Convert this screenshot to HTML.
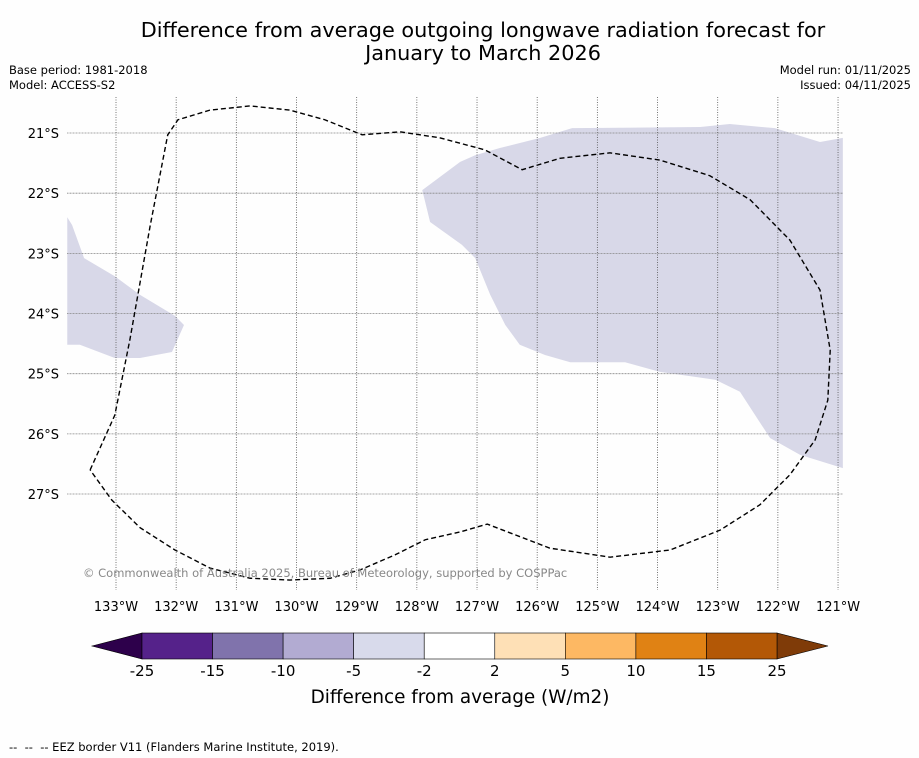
<!DOCTYPE html>
<html><head><meta charset="utf-8"><style>
body{margin:0;background:#fff;font-family:"Liberation Sans","DejaVu Sans",sans-serif;}
#wrap{position:relative;width:919px;height:758px;overflow:hidden;background:#fefefe;}
.t{position:absolute;white-space:nowrap;color:#000;}
</style></head><body>
<div id="wrap">
<div class="t" style="left:0;width:966px;top:19px;text-align:center;font-size:20.8px;line-height:23px;font-family:'DejaVu Sans',sans-serif;">Difference from average outgoing longwave radiation forecast for<br>January to March 2026</div>
<div class="t" style="left:9px;top:63px;font-size:11.5px;line-height:15px;font-family:'DejaVu Sans',sans-serif;">Base period: 1981-2018<br>Model: ACCESS-S2</div>
<div class="t" style="right:8px;top:63px;font-size:11.5px;line-height:15px;text-align:right;font-family:'DejaVu Sans',sans-serif;">Model run: 01/11/2025<br>Issued: 04/11/2025</div>
<svg id="map" width="919" height="758" style="position:absolute;left:0;top:0" font-family="DejaVu Sans, sans-serif"></svg>
<div class="t" style="left:9px;top:740px;font-size:11.5px;font-family:'DejaVu Sans',sans-serif;">--&nbsp; --&nbsp; -- EEZ border V11 (Flanders Marine Institute, 2019).</div>
</div>
<script>
const lonTicks=[133,132,131,130,129,128,127,126,125,124,123,122,121];
const latTicks=[21,22,23,24,25,26,27];
const rightRegionLon=[127.91,127.28,127.03,126.62,125.95,125.42,123.29,122.80,122.05,121.30,120.92,120.92,121.63,122.13,122.63,123.04,123.96,124.54,125.45,125.87,126.29,126.53,126.78,127.03,127.25,127.78];
const rightRegionLat=[21.95,21.48,21.37,21.25,21.08,20.92,20.90,20.85,20.92,21.15,21.08,26.57,26.35,26.07,25.30,25.10,24.97,24.81,24.81,24.69,24.52,24.19,23.69,23.08,22.86,22.48];
const leftRegionLon=[133.81,133.73,133.53,133.02,132.60,132.02,131.87,132.07,132.60,133.02,133.60,133.81];
const leftRegionLat=[22.40,22.53,23.08,23.38,23.69,24.04,24.19,24.64,24.74,24.74,24.52,24.52];
const eezLon=[133.43,133.02,132.77,132.43,132.14,131.97,131.44,130.77,130.11,129.53,128.91,128.28,127.62,126.87,126.25,125.62,124.79,123.96,123.13,122.46,121.80,121.30,121.13,121.17,121.38,121.80,122.30,122.96,123.79,124.79,125.79,126.83,127.28,127.86,128.36,128.94,129.44,130.11,130.77,131.44,132.02,132.60,133.07,133.43];
const eezLat=[26.60,25.69,24.44,22.53,21.03,20.78,20.62,20.55,20.62,20.78,21.03,20.98,21.08,21.28,21.61,21.42,21.33,21.45,21.71,22.11,22.78,23.61,24.61,25.44,26.10,26.68,27.18,27.60,27.93,28.05,27.90,27.50,27.63,27.76,28.01,28.26,28.40,28.43,28.40,28.23,27.93,27.56,27.10,26.60];
const cbLabels=["-25","-15","-10","-5","-2","2","5","10","15","25"];
const cbColors=["#55228a","#8073ac","#b2abd2","#d8daeb","#ffffff","#fee0b6","#fdb863","#e08214","#b35806"];
const X=lon=>116+(133-lon)*60.17, Y=lat=>133+(lat-21)*60.17;
const NS="http://www.w3.org/2000/svg", svg=document.getElementById('map');
function mk(tag,attrs,parent){const e=document.createElementNS(NS,tag);for(const k in attrs)e.setAttribute(k,attrs[k]);(parent||svg).appendChild(e);return e;}
const L=67,R=843,T=97,B=590;
let e=mk('polygon',{points:rightRegionLon.map((v,i)=>X(v)+','+Y(rightRegionLat[i])).join(' '),fill:'#d8d8e8'});


e=mk('polygon',{points:leftRegionLon.map((v,i)=>Math.max(L,X(v))+','+Y(leftRegionLat[i])).join(' '),fill:'#d8d8e8'});


lonTicks.forEach(lon=>{
 const l=mk('line',{x1:X(lon),x2:X(lon),y1:T,y2:B,stroke:'#555','stroke-width':0.8,'stroke-dasharray':'1,1.5'});
 
 
 const t=mk('text',{x:X(lon),y:611,'font-size':13,'text-anchor':'middle'});t.textContent=lon+'°W';
 
 
});
latTicks.forEach(lat=>{
 const l=mk('line',{x1:L,x2:R,y1:Y(lat),y2:Y(lat),stroke:'#888','stroke-width':0.8,'stroke-dasharray':'1,0.5'});
 
 
 const t=mk('text',{x:59,y:Y(lat)+5,'font-size':13,'text-anchor':'end'});t.textContent=lat+'°S';
 
 
});
e=mk('polyline',{points:eezLon.map((v,i)=>X(v)+','+Y(eezLat[i])).join(' '),fill:'none',stroke:'#000','stroke-width':1.4,'stroke-dasharray':'5,3'});


e=mk('text',{x:83,y:577,'font-size':11.5,fill:'#888'});e.textContent='© Commonwealth of Australia 2025, Bureau of Meteorology, supported by COSPPac';


const cx0=142,cx1=777,cy=633,ch=26,w=(cx1-cx0)/cbColors.length;
e=mk('polygon',{points:`92,${cy+ch/2} ${cx0},${cy} ${cx0},${cy+ch}`,fill:'#2d004b',stroke:'#000','stroke-width':0.6});


e=mk('polygon',{points:`828,${cy+ch/2} ${cx1},${cy} ${cx1},${cy+ch}`,fill:'#7f3b08',stroke:'#000','stroke-width':0.6});


cbColors.forEach((c,i)=>{
 const r=mk('rect',{x:cx0+i*w,y:cy,width:w,height:ch,fill:c,stroke:'#000','stroke-width':0.6});
 
 
});
cbLabels.forEach((s,i)=>{
 const t=mk('text',{x:cx0+i*w,y:676,'font-size':15,'text-anchor':'middle'});t.textContent=s;
 
 
});
e=mk('text',{x:460,y:703,'font-size':18.4,'text-anchor':'middle'});e.textContent='Difference from average (W/m2)';


</script>
</body></html>
